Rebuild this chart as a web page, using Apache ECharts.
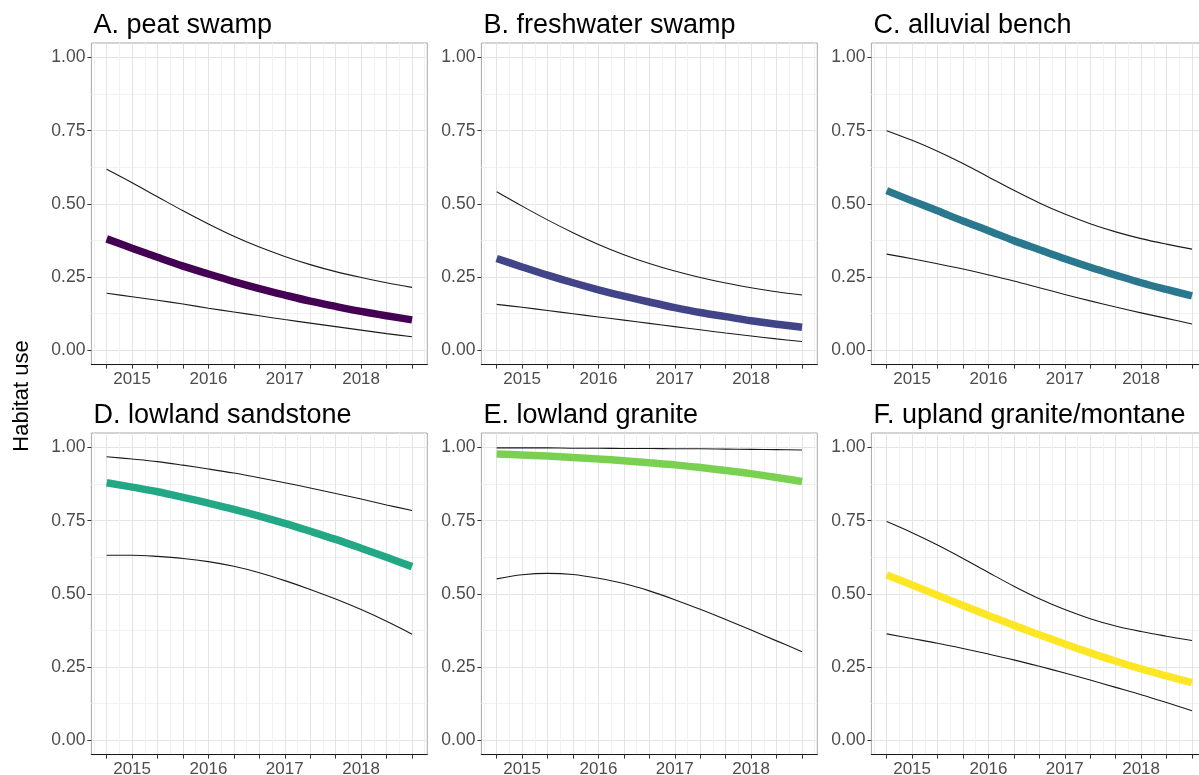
<!DOCTYPE html>
<html>
<head>
<meta charset="utf-8">
<script src="https://cdn.jsdelivr.net/npm/echarts@6/dist/echarts.min.js"></script>
<style>
  html, body { margin: 0; padding: 0; background: #ffffff; }
  #chart { width: 1199px; height: 775px; }
</style>
</head>
<body>
<div id="chart"></div>
<script>
// Sampling times (decimal years) of the fitted trends
const years = [2014.667, 2015.000, 2015.333, 2015.667, 2016.000, 2016.333, 2016.667,
               2017.000, 2017.333, 2017.667, 2018.000, 2018.333, 2018.667];
const yearLabels = [2015, 2016, 2017, 2018];
const yBreaks = [0, 0.25, 0.5, 0.75, 1];
const yMinorBreaks = [0.125, 0.375, 0.625, 0.875];

const panelTitles = ['A. peat swamp', 'B. freshwater swamp', 'C. alluvial bench',
                     'D. lowland sandstone', 'E. lowland granite', 'F. upland granite/montane'];
const panelColors = ['#440154', '#414487', '#2A788E', '#22A884', '#7AD151', '#FDE725'];

// A. peat swamp
const fitA   = [0.380, 0.348, 0.317, 0.287, 0.260, 0.234, 0.210, 0.188, 0.167, 0.149, 0.132, 0.117, 0.103];
const lowerA = [0.194, 0.182, 0.170, 0.157, 0.143, 0.130, 0.117, 0.104, 0.092, 0.080, 0.068, 0.056, 0.045];
const upperA = [0.618, 0.572, 0.524, 0.476, 0.431, 0.389, 0.352, 0.320, 0.292, 0.268, 0.248, 0.230, 0.214];
// B. freshwater swamp
const fitB   = [0.313, 0.284, 0.256, 0.230, 0.206, 0.184, 0.164, 0.145, 0.128, 0.114, 0.100, 0.088, 0.078];
const lowerB = [0.156, 0.146, 0.135, 0.124, 0.113, 0.102, 0.091, 0.080, 0.069, 0.058, 0.048, 0.038, 0.029];
const upperB = [0.541, 0.492, 0.445, 0.401, 0.361, 0.326, 0.296, 0.270, 0.248, 0.229, 0.213, 0.199, 0.188];
// C. alluvial bench
const fitC   = [0.545, 0.510, 0.476, 0.441, 0.408, 0.374, 0.343, 0.312, 0.283, 0.256, 0.230, 0.207, 0.185];
const lowerC = [0.328, 0.312, 0.295, 0.277, 0.257, 0.236, 0.213, 0.190, 0.168, 0.147, 0.127, 0.108, 0.089];
const upperC = [0.750, 0.717, 0.680, 0.638, 0.592, 0.546, 0.503, 0.465, 0.432, 0.404, 0.381, 0.362, 0.345];
// D. lowland sandstone
const fitD   = [0.880, 0.865, 0.849, 0.830, 0.810, 0.789, 0.766, 0.741, 0.714, 0.686, 0.656, 0.625, 0.593];
const lowerD = [0.632, 0.632, 0.628, 0.621, 0.610, 0.594, 0.572, 0.545, 0.515, 0.482, 0.446, 0.406, 0.362];
const upperD = [0.969, 0.961, 0.952, 0.940, 0.927, 0.913, 0.897, 0.880, 0.862, 0.843, 0.824, 0.804, 0.785];
// E. lowland granite
const fitE   = [0.978, 0.975, 0.971, 0.966, 0.961, 0.955, 0.948, 0.941, 0.932, 0.922, 0.911, 0.898, 0.884];
const lowerE = [0.551, 0.565, 0.570, 0.566, 0.553, 0.535, 0.510, 0.480, 0.447, 0.412, 0.376, 0.339, 0.302];
const upperE = [0.999, 0.999, 0.999, 0.998, 0.998, 0.997, 0.997, 0.996, 0.996, 0.995, 0.994, 0.993, 0.992];
// F. upland granite/montane
const fitF   = [0.564, 0.530, 0.495, 0.460, 0.426, 0.392, 0.360, 0.328, 0.298, 0.270, 0.243, 0.219, 0.196];
const lowerF = [0.363, 0.347, 0.331, 0.313, 0.294, 0.274, 0.252, 0.229, 0.205, 0.180, 0.155, 0.128, 0.100];
const upperF = [0.747, 0.709, 0.667, 0.621, 0.573, 0.526, 0.483, 0.446, 0.415, 0.390, 0.371, 0.355, 0.340];

const fits   = [fitA, fitB, fitC, fitD, fitE, fitF];
const lowers = [lowerA, lowerB, lowerC, lowerD, lowerE, lowerF];
const uppers = [upperA, upperB, upperC, upperD, upperE, upperF];

// ---- layout ----
const FONT = '"Liberation Sans", Arial, Helvetica, sans-serif';
const colLeft = [91.4, 481.4, 871.4];
const rowTop = [43, 433];
const panelW = 335.9;
const panelH = 321.6;

// axis ranges padded 5% beyond the data span
const span = years[years.length - 1] - years[0];
const xMin = years[0] - 0.05 * span;
const xMax = years[years.length - 1] + 0.05 * span;
const yMin = -0.05, yMax = 1.05;

// major ticks every 4 months, minor gridlines halfway between
const xTicks = years.slice();
const step = years[1] - years[0];
const xMinor = [xTicks[0] - step / 2].concat(xTicks.map(v => v + step / 2));

const grids = [], xAxes = [], yAxes = [], series = [], titles = [];

for (let i = 0; i < 6; i++) {
  const col = i % 3, row = Math.floor(i / 3);
  grids.push({
    left: colLeft[col], top: rowTop[row], width: panelW, height: panelH,
    show: true, borderColor: '#a8a8a8', borderWidth: 1, backgroundColor: '#ffffff',
    containLabel: false, outerBoundsMode: 'none'
  });

  // main x axis: ticks, year labels, major gridlines
  xAxes.push({
    gridIndex: i, type: 'value', position: 'bottom', min: xMin, max: xMax,
    axisLine: { show: true, onZero: false, lineStyle: { color: '#1a1a1a', width: 1.2 } },
    axisTick: { show: true, length: 4, customValues: xTicks, lineStyle: { color: '#333333', width: 1 } },
    axisLabel: { show: true, customValues: yearLabels, formatter: v => String(Math.round(v)),
                 color: '#4d4d4d', fontSize: 17, fontFamily: FONT, margin: 6 },
    splitLine: { show: true, lineStyle: { color: '#e4e4e4', width: 1 } }
  });
  // minor vertical gridlines
  xAxes.push({
    gridIndex: i, type: 'value', position: 'top', min: xMin, max: xMax,
    axisLine: { show: false }, axisTick: { show: false, customValues: xMinor },
    axisLabel: { show: false },
    splitLine: { show: true, lineStyle: { color: '#f1f1f1', width: 1 } }
  });

  yAxes.push({
    gridIndex: i, type: 'value', position: 'left', min: yMin, max: yMax,
    axisLine: { show: false },
    axisTick: { show: true, length: 4, customValues: yBreaks, lineStyle: { color: '#333333', width: 1 } },
    axisLabel: { show: true, customValues: yBreaks, formatter: v => v.toFixed(2),
                 color: '#4d4d4d', fontSize: 17.5, fontFamily: FONT, margin: 6 },
    splitLine: { show: true, lineStyle: { color: '#e4e4e4', width: 1 } }
  });
  yAxes.push({
    gridIndex: i, type: 'value', position: 'right', min: yMin, max: yMax,
    axisLine: { show: false }, axisTick: { show: false, customValues: yMinorBreaks },
    axisLabel: { show: false },
    splitLine: { show: true, lineStyle: { color: '#f1f1f1', width: 1 } }
  });

  titles.push({
    text: panelTitles[i], left: colLeft[col] - 3, top: rowTop[row] - 36,
    textStyle: { fontFamily: FONT, fontSize: 27, fontWeight: 'normal', color: '#000000' }
  });

  const pair = arr => years.map((x, j) => [x, arr[j]]);
  const base = {
    type: 'line', xAxisIndex: 2 * i, yAxisIndex: 2 * i, showSymbol: false, symbol: 'none',
    smooth: 0.35, silent: true, z: 3
  };
  series.push(Object.assign({}, base, { name: 'lower' + i, data: pair(lowers[i]),
    lineStyle: { color: '#1a1a1a', width: 1.1 } }));
  series.push(Object.assign({}, base, { name: 'upper' + i, data: pair(uppers[i]),
    lineStyle: { color: '#1a1a1a', width: 1.1 } }));
  series.push(Object.assign({}, base, { name: 'fit' + i, data: pair(fits[i]), z: 4,
    lineStyle: { color: panelColors[i], width: 7.5, cap: 'butt' } }));
}

const chart = echarts.init(document.getElementById('chart'), null, { renderer: 'canvas' });
chart.setOption({
  animation: false,
  backgroundColor: '#ffffff',
  title: titles,
  grid: grids,
  xAxis: xAxes,
  yAxis: yAxes,
  series: series,
  graphic: [{
    type: 'text', x: 22, y: 396, rotation: Math.PI / 2,
    style: { text: 'Habitat use', fontFamily: FONT, fontSize: 22, fill: '#000000',
             align: 'center', verticalAlign: 'middle' }
  }]
});
</script>
</body>
</html>
